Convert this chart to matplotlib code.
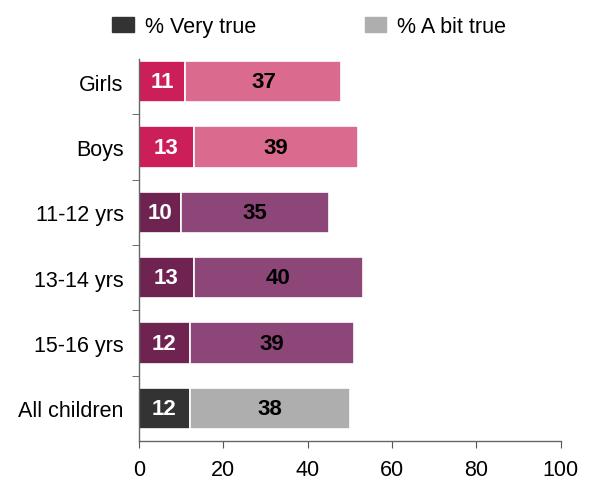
import matplotlib.pyplot as plt
import numpy as np

plt.rcParams['font.family'] = ['Liberation Sans', 'DejaVu Sans']

categories = ['Girls', 'Boys', '11-12 yrs', '13-14 yrs', '15-16 yrs', 'All children']
very_true = [11, 13, 10, 13, 12, 12]
bit_true = [37, 39, 35, 40, 39, 38]
x_ticks = [0, 20, 40, 60, 80, 100]

dark_colors = ['#CC1F5A', '#CC1F5A', '#6E2350', '#6E2350', '#6E2350', '#333333']
light_colors = ['#DB6B8E', '#DB6B8E', '#8C4678', '#8C4678', '#8C4678', '#AEAEAE']

fig = plt.figure(figsize=(5.89, 4.81), dpi=100)
ax = fig.add_axes([0.236, 0.081, 0.716, 0.815])

y = np.arange(len(categories))
ax.barh(y, very_true, height=0.63, color=dark_colors, edgecolor='white', linewidth=1.2)
ax.barh(y, bit_true, left=very_true, height=0.63, color=light_colors, edgecolor='white', linewidth=1.2)

for i in range(len(categories)):
    ax.text(very_true[i] / 2, y[i], str(very_true[i]), ha='center', va='center',
            color='white', fontsize=16, fontweight='bold')
    ax.text(very_true[i] + bit_true[i] / 2, y[i], str(bit_true[i]), ha='center', va='center',
            color='black', fontsize=16, fontweight='bold')

ax.set_ylim(5.5, -0.5)
ax.set_xlim(0, 100)
ax.set_xticks(x_ticks)
ax.set_yticks(y)
ax.set_yticklabels(categories)
ax.set_yticks(np.arange(0.5, 5, 1), minor=True)
ax.tick_params(axis='y', which='major', length=0, pad=11, labelsize=15.5)
ax.tick_params(axis='y', which='minor', length=5, direction='out', color='#555555')
ax.tick_params(axis='x', length=5, direction='out', pad=8, labelsize=15.5, color='#555555')

for s in ['top', 'right']:
    ax.spines[s].set_visible(False)
for s in ['left', 'bottom']:
    ax.spines[s].set_color('#666666')
    ax.spines[s].set_linewidth(1)
ax.spines['left'].set_bounds(5.5, -0.35)

handles = [plt.Rectangle((0, 0), 1, 1, color='#333333'),
           plt.Rectangle((0, 0), 1, 1, color='#AEAEAE')]
fig.legend(handles, ['% Very true', '% A bit true'], loc='upper center',
           bbox_to_anchor=(0.525, 1.005), ncol=2, frameon=False, fontsize=15.5,
           handlelength=1.0, handleheight=0.7, handletextpad=0.5, columnspacing=5.05)

fig.savefig('out.png', dpi=100)
